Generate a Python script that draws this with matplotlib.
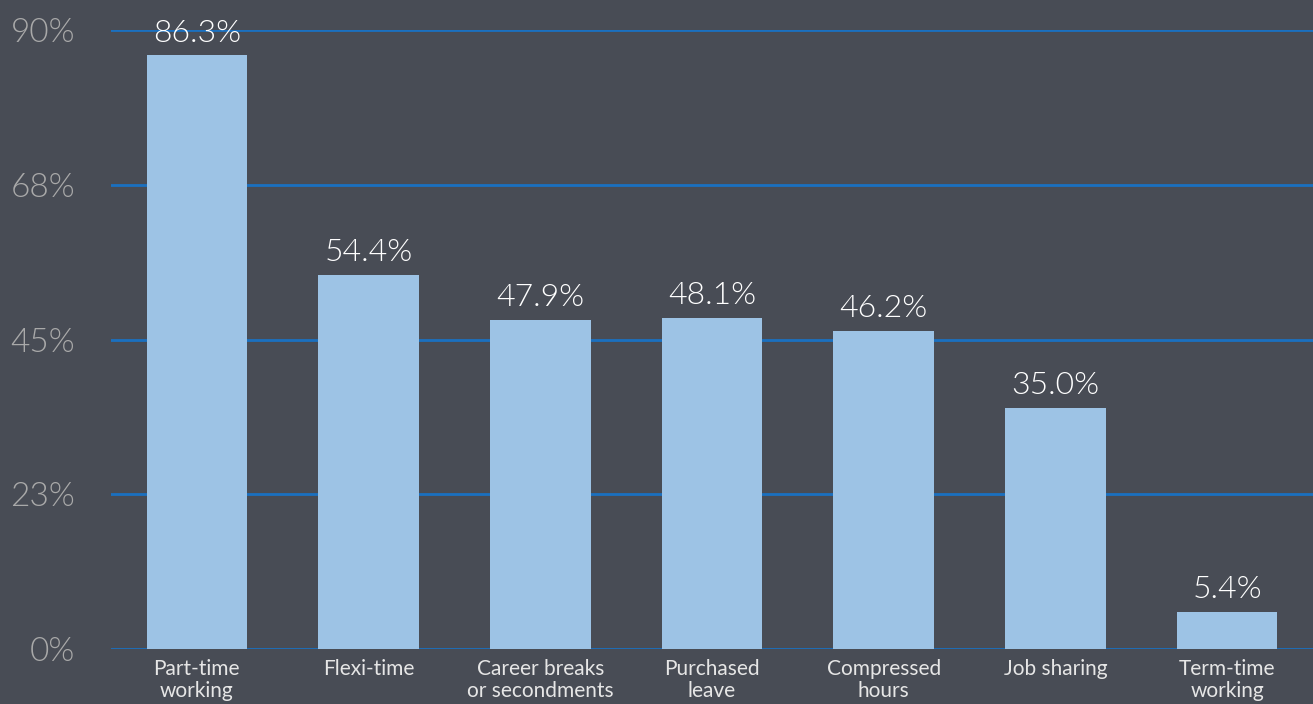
import matplotlib.pyplot as plt

categories = ["Part-time\nworking", "Flexi-time", "Career breaks\nor secondments",
              "Purchased\nleave", "Compressed\nhours", "Job sharing", "Term-time\nworking"]
values = [86.3, 54.4, 47.9, 48.1, 46.2, 35.0, 5.4]
yticks = [0, 22.5, 45, 67.5, 90]
ytick_labels = ["0%", "23%", "45%", "68%", "90%"]

bg = "#484c55"
plt.rcParams['font.family'] = ['Lato', 'DejaVu Sans']

fig = plt.figure(figsize=(13.13, 7.04), dpi=100, facecolor=bg)
ax = fig.add_axes([111 / 1313, 55 / 704, 1 - 111 / 1313, 619 / 704], facecolor=bg)

x = range(len(categories))
ax.bar(x, values, width=0.585, color="#9dc3e5", zorder=2)
for xi, v in zip(x, values):
    ax.annotate(f"{v:.1f}%", (xi, v), xytext=(0, 10), textcoords="offset points",
                ha="center", va="baseline", color="white", fontsize=23,
                fontweight=300, zorder=3)

ax.set_xlim(-0.5, len(categories) - 0.5)
ax.set_ylim(0, 90)
ax.set_yticks(yticks)
ax.set_yticklabels(ytick_labels, color="#a9a9a9", fontsize=24, fontweight=300)
ax.set_xticks(list(x))
ax.set_xticklabels(categories, color="#e6e6e6", fontsize=15, linespacing=1.15)
ax.tick_params(axis="y", length=0, pad=26)
ax.tick_params(axis="x", length=0, pad=7)
for s in ax.spines.values():
    s.set_visible(False)
ax.yaxis.grid(True, color="#1a70c0", linewidth=2, zorder=1)
ax.set_axisbelow(True)

fig.savefig("out.png", dpi=100, facecolor=bg)
